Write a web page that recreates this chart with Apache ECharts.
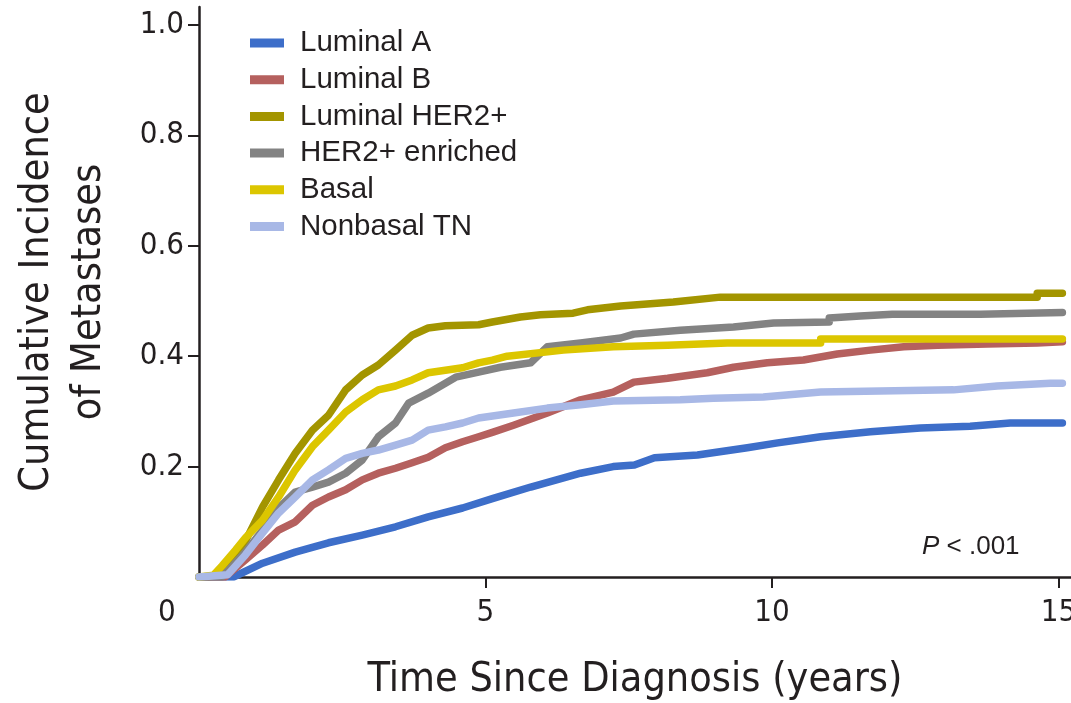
<!DOCTYPE html>
<html>
<head>
<meta charset="utf-8">
<script src="https://cdn.jsdelivr.net/npm/echarts@6/dist/echarts.min.js"></script>
<style>
html,body{margin:0;padding:0;background:#fff;}
#chart{width:1071px;height:703px;}
</style>
</head>
<body>
<div id="chart"></div>
<script>
const seriesNames = ['Luminal A', 'Luminal B', 'Luminal HER2+', 'HER2+ enriched', 'Basal', 'Nonbasal TN'];
const xTicks = [5, 10, 15];
const yTicks = [0.2, 0.4, 0.6, 0.8, 1.0];

const luminalA = [[0,0],[0.6,0],[1.11,0.025],[1.68,0.045],[2.26,0.062],[2.85,0.076],[3.43,0.091],[4.0,0.109],[4.6,0.125],[5.12,0.142],[5.79,0.163],[6.66,0.188],[7.23,0.2],[7.6,0.203],[7.95,0.216],[8.7,0.221],[9.57,0.234],[10.1,0.243],[10.85,0.254],[11.72,0.263],[12.59,0.27],[13.46,0.273],[14.16,0.279],[15.07,0.279]];
const luminalB = [[0,0],[0.45,0],[0.81,0.031],[1.11,0.058],[1.39,0.085],[1.68,0.1],[1.98,0.13],[2.26,0.145],[2.56,0.158],[2.85,0.176],[3.13,0.188],[3.43,0.197],[3.72,0.207],[4.0,0.217],[4.3,0.234],[4.6,0.245],[4.88,0.254],[5.12,0.262],[5.49,0.275],[6.08,0.297],[6.66,0.321],[7.23,0.335],[7.59,0.353],[8.18,0.36],[8.87,0.37],[9.33,0.38],[9.92,0.388],[10.55,0.393],[11.14,0.404],[11.72,0.411],[12.3,0.417],[12.89,0.42],[13.76,0.422],[14.63,0.424],[15.07,0.426]];
const luminalHER2 = [[0,0],[0.3,0.002],[0.52,0.02],[0.81,0.065],[1.11,0.127],[1.39,0.176],[1.68,0.224],[1.98,0.266],[2.26,0.293],[2.56,0.339],[2.85,0.366],[3.13,0.384],[3.43,0.411],[3.72,0.438],[4.0,0.451],[4.3,0.455],[4.88,0.457],[5.12,0.462],[5.61,0.471],[5.96,0.475],[6.53,0.478],[6.78,0.484],[7.36,0.491],[8.28,0.498],[9.1,0.507],[14.63,0.507],[14.63,0.514],[15.07,0.514]];
const her2Enriched = [[0,0],[0.4,0],[0.81,0.045],[1.11,0.085],[1.39,0.125],[1.68,0.154],[1.98,0.163],[2.26,0.172],[2.56,0.188],[2.85,0.212],[3.13,0.254],[3.43,0.279],[3.66,0.315],[4.0,0.333],[4.3,0.351],[4.48,0.362],[4.88,0.371],[5.26,0.38],[5.79,0.388],[6.08,0.417],[6.66,0.424],[7.36,0.433],[7.59,0.44],[8.4,0.447],[9.33,0.453],[10.03,0.46],[11.0,0.462],[11.0,0.469],[11.54,0.473],[12.1,0.476],[13.64,0.476],[13.64,0.479],[15.07,0.479]];
const basal = [[0,0],[0.25,0.003],[0.4,0.02],[0.64,0.049],[0.81,0.071],[1.11,0.103],[1.39,0.145],[1.68,0.194],[1.98,0.236],[2.26,0.266],[2.56,0.299],[2.85,0.321],[3.13,0.339],[3.43,0.346],[3.72,0.357],[4.0,0.37],[4.6,0.379],[4.88,0.388],[5.12,0.393],[5.38,0.4],[6.36,0.411],[7.23,0.417],[8.18,0.42],[9.22,0.424],[10.85,0.424],[10.85,0.431],[15.07,0.431]];
const nonbasalTN = [[0,0],[0.5,0.004],[0.81,0.04],[1.11,0.08],[1.39,0.116],[1.68,0.145],[1.98,0.176],[2.26,0.194],[2.56,0.215],[2.85,0.224],[3.13,0.23],[3.43,0.239],[3.72,0.248],[4.0,0.266],[4.3,0.272],[4.6,0.279],[4.88,0.288],[5.49,0.297],[6.08,0.306],[6.66,0.312],[7.23,0.319],[8.4,0.321],[8.98,0.324],[9.85,0.326],[10.85,0.335],[13.17,0.339],[13.17,0.342],[13.93,0.346],[14.86,0.351],[15.07,0.351]];

const seriesData = [luminalA, luminalB, luminalHER2, her2Enriched, basal, nonbasalTN];
const colors = ['#3d6ec9', '#b5605e', '#a39500', '#838383', '#dcc600', '#a8b8e6'];

const narrow = "'DejaVu Sans Condensed', 'Liberation Sans', sans-serif";
const regular = "'Liberation Sans', Arial, sans-serif";
const ink = '#231f20';

const chart = echarts.init(document.getElementById('chart'), null, {renderer: 'canvas'});
chart.setOption({
  animation: false,
  backgroundColor: '#ffffff',
  grid: {left: 199, right: 0, top: 7, bottom: 126, containLabel: false, outerBoundsMode: 'none'},
  legend: {
    orient: 'vertical', left: 250, top: 28, padding: 0,
    icon: 'rect', itemWidth: 34, itemHeight: 9, itemGap: 6.7,
    data: seriesNames,
    textStyle: {fontFamily: regular, fontSize: 29.5, color: ink, lineHeight: 30, padding: [0, 0, 0, 11]}
  },
  xAxis: {
    type: 'value', min: 0, max: 15.22, interval: 5,
    splitLine: {show: false},
    axisLine: {lineStyle: {color: ink, width: 2.5}},
    axisTick: {length: 11, lineStyle: {color: ink, width: 2}, customValues: xTicks},
    axisLabel: {customValues: xTicks, fontFamily: narrow, fontSize: 31, color: ink, margin: 20},
    name: 'Time Since Diagnosis (years)', nameLocation: 'middle', nameGap: 83,
    nameTextStyle: {fontFamily: narrow, fontSize: 41, color: ink}
  },
  yAxis: {
    type: 'value', min: 0, max: 1.0326, interval: 0.2,
    splitLine: {show: false},
    axisLine: {show: true, lineStyle: {color: ink, width: 2.5}},
    axisTick: {show: true, length: 11, lineStyle: {color: ink, width: 2}, customValues: yTicks},
    axisLabel: {customValues: yTicks, fontFamily: narrow, fontSize: 31, color: ink, margin: 15,
      formatter: v => v.toFixed(1)},
    name: 'Cumulative Incidence\nof Metastases', nameLocation: 'middle', nameGap: 84,
    nameTextStyle: {fontFamily: narrow, fontSize: 41, color: ink, lineHeight: 52, align: 'center'}
  },
  graphic: [
    {type: 'text', left: 158, top: 597, style: {text: '0', font: "31px " + narrow, fill: ink}},
    {type: 'text', left: 922, top: 534, style: {
      text: '{i|P} < .001', font: "26px " + regular, fill: ink,
      rich: {i: {fontStyle: 'italic', fontFamily: regular, fontSize: 26, fill: ink}}
    }}
  ],
  series: seriesData.map((d, i) => ({
    name: seriesNames[i], type: 'line', data: d, showSymbol: false, symbol: 'none',
    color: colors[i],
    lineStyle: {color: colors[i], width: 7.5, cap: 'round', join: 'round'},
    z: 2 + i
  }))
});
</script>
</body>
</html>
